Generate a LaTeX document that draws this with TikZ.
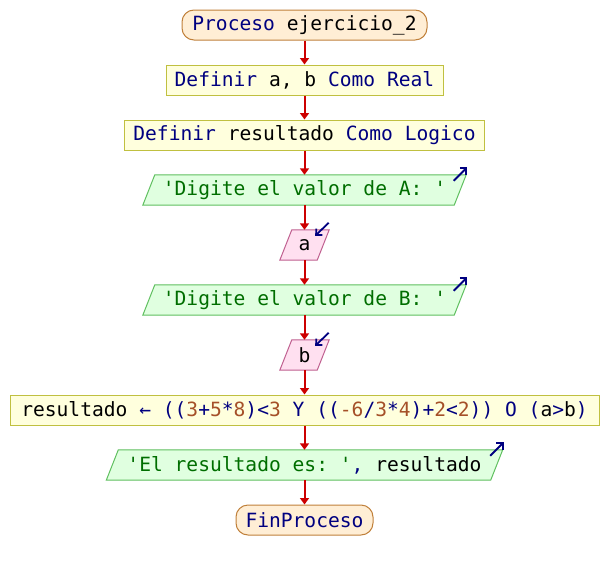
\documentclass[tikz,border=0pt]{standalone}
\usepackage{fontspec}
\setmonofont{DejaVu Sans Mono}
\usetikzlibrary{arrows.meta,backgrounds,calc}
\definecolor{ckw}{RGB}{0,0,128}
\definecolor{cstr}{RGB}{0,110,0}
\definecolor{cnum}{RGB}{165,80,40}
\definecolor{procfill}{RGB}{255,238,213}
\definecolor{procline}{RGB}{192,128,58}
\definecolor{deffill}{RGB}{255,255,221}
\definecolor{defline}{RGB}{192,192,64}
\definecolor{outfill}{RGB}{224,255,224}
\definecolor{outline}{RGB}{96,192,96}
\definecolor{infill}{RGB}{255,224,240}
\definecolor{inline}{RGB}{192,96,144}
\definecolor{flowred}{RGB}{204,0,0}
\newcommand\Kw[1]{\textcolor{ckw}{#1}}
\newcommand\Sq[1]{\textcolor{cstr}{#1}}
\newcommand\Nm[1]{\textcolor{cnum}{#1}}
\newcommand\paragram[3]{%
  \begin{scope}[on background layer]
    \draw[fill=#2,draw=#3,line width=1pt]
      ($(#1.south west)+(-6,0)$) -- ($(#1.north west)+(6,0)$) --
      ($(#1.north east)+(6,0)$) -- ($(#1.south east)+(-6,0)$) -- cycle;
  \end{scope}}
\begin{document}
\begin{tikzpicture}[x=1pt,y=-1pt,
  font=\ttfamily\fontsize{19.6}{22}\selectfont,
  basebox/.style={inner sep=0pt,minimum height=30pt,anchor=center},
  procbox/.style={basebox,draw=procline,fill=procfill,rounded corners=12pt,line width=1pt},
  defbox/.style={basebox,draw=defline,fill=deffill,line width=1pt},
  iobox/.style={basebox},
  flow/.style={draw=flowred,line width=2pt,-{Triangle[width=9pt,length=6.5pt]}},
  icon/.style={draw=ckw,line width=1.8pt,-{Straight Barb[length=4.5pt,width=9pt]}}]
\useasboundingbox (0,0) rectangle (608,570);
\node[procbox,minimum width=245pt] (P) at (304.5,25) {\Kw{Proceso} ejercicio\_2};
\node[defbox,minimum width=277pt] (D1) at (304.5,80) {\Kw{Definir} a, b \Kw{Como Real}};
\node[defbox,minimum width=360pt] (D2) at (304.5,135) {\Kw{Definir} resultado \Kw{Como Logico}};
\node[iobox,minimum width=311pt] (O1) at (304.5,190) {\Sq{'Digite el valor de A: '}};
\node[iobox,minimum width=37pt] (R1) at (304.5,245) {a};
\node[iobox,minimum width=311pt] (O2) at (304.5,300) {\Sq{'Digite el valor de B: '}};
\node[iobox,minimum width=37pt] (R2) at (304.5,355) {b};
\node[defbox,minimum width=589pt] (A) at (304.5,410) {resultado \Kw{← ((}\Nm{3}\Kw{+}\Nm{5}\Kw{*}\Nm{8}\Kw{)<}\Nm{3} \Kw{Y ((}\Nm{-6}\Kw{/}\Nm{3}\Kw{*}\Nm{4}\Kw{)+}\Nm{2}\Kw{<}\Nm{2}\Kw{)) O (}a\Kw{>}b\Kw{)}};
\node[iobox,minimum width=384pt] (O3) at (304.5,465) {\Sq{'El resultado es: '}\Kw{,} resultado};
\node[procbox,minimum width=137pt] (F) at (304.5,520) {\Kw{FinProceso}};
\paragram{O1}{outfill}{outline}
\paragram{O2}{outfill}{outline}
\paragram{O3}{outfill}{outline}
\paragram{R1}{infill}{inline}
\paragram{R2}{infill}{inline}
\draw[icon] ($(O1.north east)+(-6.5,6)$) -- ($(O1.north east)+(7,-7.5)$);
\draw[icon] ($(O2.north east)+(-6.5,6)$) -- ($(O2.north east)+(7,-7.5)$);
\draw[icon] ($(O3.north east)+(-6.5,6)$) -- ($(O3.north east)+(7,-7.5)$);
\draw[icon] ($(R1.north east)+(5.5,-7)$) -- ($(R1.north east)+(-8,6)$);
\draw[icon] ($(R2.north east)+(5.5,-7)$) -- ($(R2.north east)+(-8,6)$);
\draw[flow] (P) -- (D1);
\draw[flow] (D1) -- (D2);
\draw[flow] (D2) -- (O1);
\draw[flow] (O1) -- (R1);
\draw[flow] (R1) -- (O2);
\draw[flow] (O2) -- (R2);
\draw[flow] (R2) -- (A);
\draw[flow] (A) -- (O3);
\draw[flow] (O3) -- (F);
\end{tikzpicture}
\end{document}
